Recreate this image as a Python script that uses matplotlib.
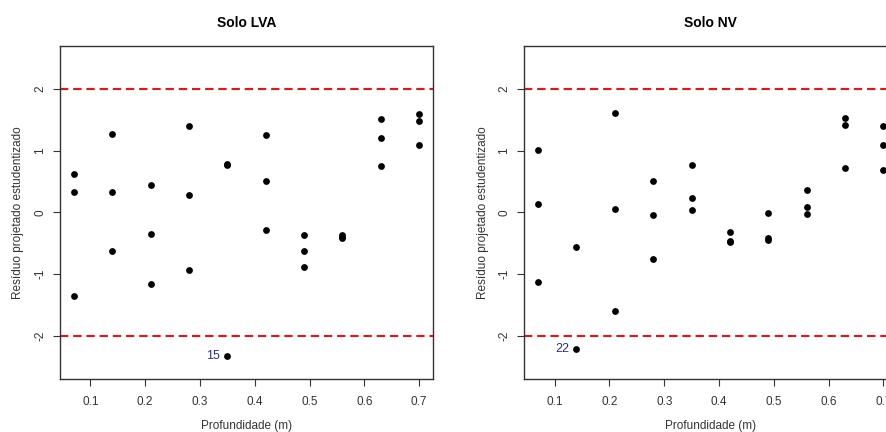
import numpy as np
import matplotlib
matplotlib.use("Agg")
import matplotlib.pyplot as plt

plt.rcParams['font.family'] = ['Liberation Sans', 'DejaVu Sans']
plt.rcParams['axes.unicode_minus'] = False
plt.rcParams['lines.scale_dashes'] = False

# profundidade (m) e residuos de cada solo
prof_lva = [0.07, 0.07, 0.07, 0.14, 0.14, 0.14, 0.21, 0.21, 0.21, 0.28, 0.28, 0.28,
            0.35, 0.35, 0.35, 0.42, 0.42, 0.42, 0.49, 0.49, 0.49, 0.56, 0.56, 0.56,
            0.63, 0.63, 0.63, 0.70, 0.70, 0.70]
res_lva = [0.62, 0.33, -1.35, 1.27, 0.34, -0.62, 0.45, -0.35, -1.16, 1.41, 0.28, -0.93,
           0.79, 0.77, -2.33, 1.25, 0.51, -0.29, -0.36, -0.62, -0.89, -0.36, -0.39, -0.42,
           1.52, 1.21, 0.75, 1.59, 1.48, 1.09]

prof_nv = [0.07, 0.07, 0.07, 0.14, 0.14, 0.21, 0.21, 0.21, 0.28, 0.28, 0.28,
           0.35, 0.35, 0.35, 0.42, 0.42, 0.42, 0.49, 0.49, 0.49, 0.56, 0.56, 0.56,
           0.63, 0.63, 0.63, 0.70, 0.70, 0.70]
res_nv = [1.01, 0.13, -1.13, -0.56, -2.22, 1.61, 0.06, -1.59, 0.51, -0.04, -0.76,
          0.77, 0.24, 0.04, -0.31, -0.46, -0.48, -0.01, -0.42, -0.45, 0.36, 0.09, -0.03,
          1.54, 1.42, 0.72, 1.40, 1.10, 0.69]

# observacoes destacadas (indice na serie, rotulo)
destaque_lva = (14, "15")
destaque_nv = (4, "22")

titulos = ["Solo LVA", "Solo NV"]
xticks = [0.1, 0.2, 0.3, 0.4, 0.5, 0.6, 0.7]
yticks = [-2, -1, 0, 1, 2]
limite = 2


def painel(ax, x, y, titulo, destaque):
    ax.scatter(x, y, s=24, color="black", zorder=3, linewidths=0)
    ax.axhline(limite, color="#cc2020", linewidth=1.6, dashes=(6, 3.5))
    ax.axhline(-limite, color="#cc2020", linewidth=1.6, dashes=(6, 3.5))
    i, rot = destaque
    ax.annotate(rot, xy=(x[i], y[i]), xytext=(-5, 0), textcoords="offset points",
                ha="right", va="center", color="#2e2e8a", fontsize=9)
    xr = max(x) - min(x)
    ax.set_xlim(min(x) - 0.04 * xr, max(x) + 0.04 * xr)
    ax.set_ylim(-2.7, 2.7)
    ax.set_xticks(xticks)
    ax.set_xticklabels([str(t) for t in xticks])
    ax.set_yticks(yticks)
    ax.set_yticklabels([str(t) for t in yticks], rotation=90, va="center")
    ax.tick_params(axis="x", length=5, pad=7, labelsize=8.5, colors="#333333")
    ax.tick_params(axis="y", length=5, pad=5, labelsize=8.5, colors="#333333")
    for sp in ax.spines.values():
        sp.set_color("#333333")
        sp.set_linewidth(1.0)
    ax.set_title(titulo, fontsize=10, fontweight="bold", pad=14)
    ax.set_xlabel("Profundidade (m)", fontsize=8.5, color="#333333", labelpad=9)
    ax.set_ylabel("Resíduo projetado estudentizado", fontsize=8.5, color="#333333", labelpad=7)


fig = plt.figure(figsize=(8.87, 4.32), dpi=100)
ax1 = fig.add_axes([60 / 887, 53 / 432, 373 / 887, 333 / 432])
ax2 = fig.add_axes([524.3 / 887, 53 / 432, 373 / 887, 333 / 432])

painel(ax1, prof_lva, res_lva, titulos[0], destaque_lva)
painel(ax2, prof_nv, res_nv, titulos[1], destaque_nv)

fig.savefig("out.png", dpi=100)
